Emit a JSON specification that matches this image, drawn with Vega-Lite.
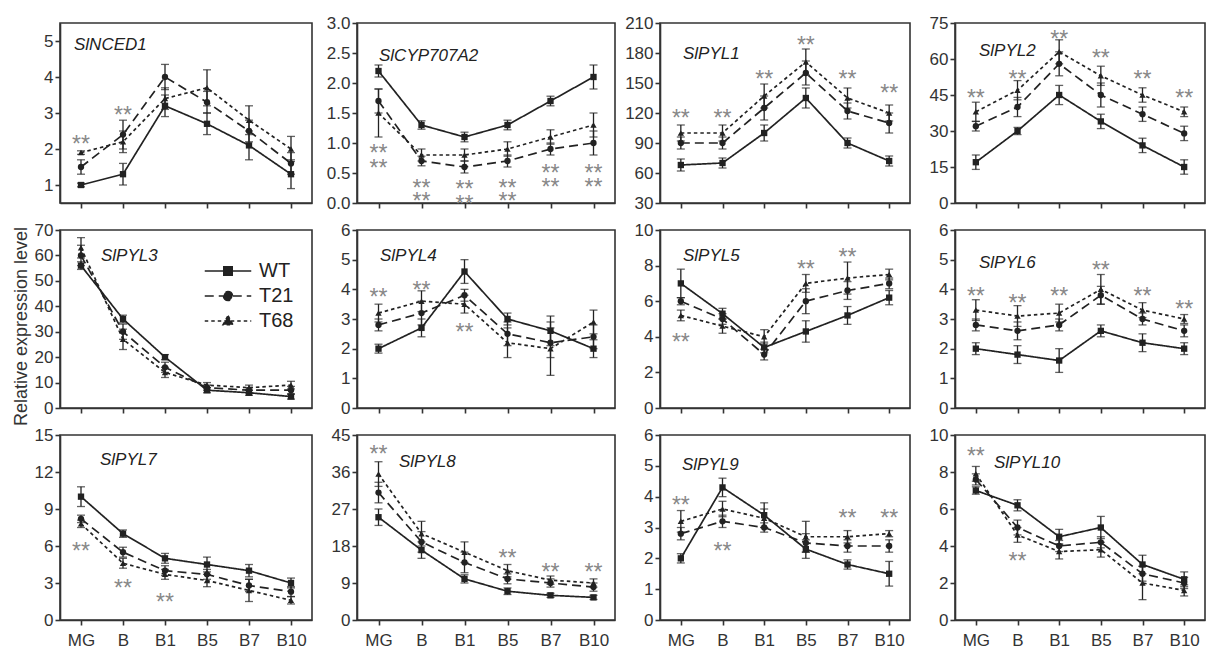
{
"$schema":"https://vega.github.io/schema/vega-lite/v6.json",
"background":"white",
"padding":{"left":11,"top":13,"right":0,"bottom":0},
"datasets":{
"d":[
{"g":"SlNCED1","s":"WT","x":"MG","v":1.0,"lo":0.95,"hi":1.05},{"g":"SlNCED1","s":"WT","x":"B","v":1.3,"lo":1.0,"hi":1.6},{"g":"SlNCED1","s":"WT","x":"B1","v":3.2,"lo":2.9,"hi":3.5},{"g":"SlNCED1","s":"WT","x":"B5","v":2.7,"lo":2.4,"hi":3.0},{"g":"SlNCED1","s":"WT","x":"B7","v":2.1,"lo":1.7,"hi":2.5},{"g":"SlNCED1","s":"WT","x":"B10","v":1.3,"lo":0.9,"hi":1.7},
{"g":"SlNCED1","s":"T21","x":"MG","v":1.5,"lo":1.3,"hi":1.7},{"g":"SlNCED1","s":"T21","x":"B","v":2.4,"lo":2.0,"hi":2.8},{"g":"SlNCED1","s":"T21","x":"B1","v":4.0,"lo":3.65,"hi":4.35},{"g":"SlNCED1","s":"T21","x":"B5","v":3.3,"lo":3.0,"hi":3.6},{"g":"SlNCED1","s":"T21","x":"B7","v":2.5,"lo":2.2,"hi":2.8},{"g":"SlNCED1","s":"T21","x":"B10","v":1.6,"lo":1.3,"hi":1.9},
{"g":"SlNCED1","s":"T68","x":"MG","v":1.9,"lo":1.85,"hi":1.95},{"g":"SlNCED1","s":"T68","x":"B","v":2.2,"lo":1.9,"hi":2.5},{"g":"SlNCED1","s":"T68","x":"B1","v":3.4,"lo":3.1,"hi":3.7},{"g":"SlNCED1","s":"T68","x":"B5","v":3.7,"lo":3.2,"hi":4.2},{"g":"SlNCED1","s":"T68","x":"B7","v":2.8,"lo":2.4,"hi":3.2},{"g":"SlNCED1","s":"T68","x":"B10","v":2.0,"lo":1.65,"hi":2.35},
{"g":"SlCYP707A2","s":"WT","x":"MG","v":2.2,"lo":2.1,"hi":2.3},{"g":"SlCYP707A2","s":"WT","x":"B","v":1.3,"lo":1.23,"hi":1.37},{"g":"SlCYP707A2","s":"WT","x":"B1","v":1.1,"lo":1.02,"hi":1.18},{"g":"SlCYP707A2","s":"WT","x":"B5","v":1.3,"lo":1.22,"hi":1.38},{"g":"SlCYP707A2","s":"WT","x":"B7","v":1.7,"lo":1.62,"hi":1.78},{"g":"SlCYP707A2","s":"WT","x":"B10","v":2.1,"lo":1.9,"hi":2.3},
{"g":"SlCYP707A2","s":"T21","x":"MG","v":1.7,"lo":1.5,"hi":1.9},{"g":"SlCYP707A2","s":"T21","x":"B","v":0.7,"lo":0.62,"hi":0.78},{"g":"SlCYP707A2","s":"T21","x":"B1","v":0.6,"lo":0.5,"hi":0.7},{"g":"SlCYP707A2","s":"T21","x":"B5","v":0.7,"lo":0.6,"hi":0.8},{"g":"SlCYP707A2","s":"T21","x":"B7","v":0.9,"lo":0.8,"hi":1.0},{"g":"SlCYP707A2","s":"T21","x":"B10","v":1.0,"lo":0.8,"hi":1.2},
{"g":"SlCYP707A2","s":"T68","x":"MG","v":1.5,"lo":1.1,"hi":1.9},{"g":"SlCYP707A2","s":"T68","x":"B","v":0.8,"lo":0.7,"hi":0.9},{"g":"SlCYP707A2","s":"T68","x":"B1","v":0.8,"lo":0.7,"hi":0.9},{"g":"SlCYP707A2","s":"T68","x":"B5","v":0.9,"lo":0.78,"hi":1.02},{"g":"SlCYP707A2","s":"T68","x":"B7","v":1.1,"lo":0.98,"hi":1.22},{"g":"SlCYP707A2","s":"T68","x":"B10","v":1.3,"lo":1.1,"hi":1.5},
{"g":"SlPYL1","s":"WT","x":"MG","v":68,"lo":62,"hi":74},{"g":"SlPYL1","s":"WT","x":"B","v":70,"lo":65,"hi":75},{"g":"SlPYL1","s":"WT","x":"B1","v":100,"lo":92,"hi":108},{"g":"SlPYL1","s":"WT","x":"B5","v":135,"lo":125,"hi":145},{"g":"SlPYL1","s":"WT","x":"B7","v":90,"lo":85,"hi":95},{"g":"SlPYL1","s":"WT","x":"B10","v":72,"lo":67,"hi":77},
{"g":"SlPYL1","s":"T21","x":"MG","v":90,"lo":84,"hi":96},{"g":"SlPYL1","s":"T21","x":"B","v":90,"lo":84,"hi":96},{"g":"SlPYL1","s":"T21","x":"B1","v":125,"lo":113,"hi":137},{"g":"SlPYL1","s":"T21","x":"B5","v":160,"lo":148,"hi":172},{"g":"SlPYL1","s":"T21","x":"B7","v":122,"lo":114,"hi":130},{"g":"SlPYL1","s":"T21","x":"B10","v":110,"lo":100,"hi":120},
{"g":"SlPYL1","s":"T68","x":"MG","v":100,"lo":92,"hi":108},{"g":"SlPYL1","s":"T68","x":"B","v":100,"lo":92,"hi":108},{"g":"SlPYL1","s":"T68","x":"B1","v":137,"lo":125,"hi":149},{"g":"SlPYL1","s":"T68","x":"B5","v":171,"lo":158,"hi":184},{"g":"SlPYL1","s":"T68","x":"B7","v":135,"lo":125,"hi":145},{"g":"SlPYL1","s":"T68","x":"B10","v":120,"lo":112,"hi":128},
{"g":"SlPYL2","s":"WT","x":"MG","v":17,"lo":14,"hi":20},{"g":"SlPYL2","s":"WT","x":"B","v":30,"lo":28.5,"hi":31.5},{"g":"SlPYL2","s":"WT","x":"B1","v":45,"lo":41,"hi":49},{"g":"SlPYL2","s":"WT","x":"B5","v":34,"lo":31,"hi":37},{"g":"SlPYL2","s":"WT","x":"B7","v":24,"lo":21,"hi":27},{"g":"SlPYL2","s":"WT","x":"B10","v":15,"lo":12,"hi":18},
{"g":"SlPYL2","s":"T21","x":"MG","v":32,"lo":30,"hi":34},{"g":"SlPYL2","s":"T21","x":"B","v":40,"lo":36,"hi":44},{"g":"SlPYL2","s":"T21","x":"B1","v":58,"lo":53,"hi":63},{"g":"SlPYL2","s":"T21","x":"B5","v":45,"lo":40,"hi":50},{"g":"SlPYL2","s":"T21","x":"B7","v":37,"lo":34,"hi":40},{"g":"SlPYL2","s":"T21","x":"B10","v":29,"lo":26,"hi":32},
{"g":"SlPYL2","s":"T68","x":"MG","v":38,"lo":34,"hi":42},{"g":"SlPYL2","s":"T68","x":"B","v":47,"lo":43,"hi":51},{"g":"SlPYL2","s":"T68","x":"B1","v":63,"lo":58,"hi":68},{"g":"SlPYL2","s":"T68","x":"B5","v":53,"lo":49,"hi":57},{"g":"SlPYL2","s":"T68","x":"B7","v":45,"lo":42,"hi":48},{"g":"SlPYL2","s":"T68","x":"B10","v":38,"lo":36,"hi":40},
{"g":"SlPYL3","s":"WT","x":"MG","v":56,"lo":54.5,"hi":57.5},{"g":"SlPYL3","s":"WT","x":"B","v":35,"lo":33.5,"hi":36.5},{"g":"SlPYL3","s":"WT","x":"B1","v":20,"lo":19,"hi":21},{"g":"SlPYL3","s":"WT","x":"B5","v":7,"lo":6,"hi":8},{"g":"SlPYL3","s":"WT","x":"B7","v":6,"lo":5,"hi":7},{"g":"SlPYL3","s":"WT","x":"B10","v":4.5,"lo":3.5,"hi":5.5},
{"g":"SlPYL3","s":"T21","x":"MG","v":60,"lo":56,"hi":64},{"g":"SlPYL3","s":"T21","x":"B","v":30,"lo":27,"hi":33},{"g":"SlPYL3","s":"T21","x":"B1","v":16,"lo":14,"hi":18},{"g":"SlPYL3","s":"T21","x":"B5","v":8,"lo":7,"hi":9},{"g":"SlPYL3","s":"T21","x":"B7","v":7,"lo":6,"hi":8},{"g":"SlPYL3","s":"T21","x":"B10","v":7,"lo":5.5,"hi":8.5},
{"g":"SlPYL3","s":"T68","x":"MG","v":63,"lo":59,"hi":67},{"g":"SlPYL3","s":"T68","x":"B","v":27,"lo":23,"hi":31},{"g":"SlPYL3","s":"T68","x":"B1","v":14,"lo":12,"hi":16},{"g":"SlPYL3","s":"T68","x":"B5","v":9,"lo":8,"hi":10},{"g":"SlPYL3","s":"T68","x":"B7","v":8,"lo":7,"hi":9},{"g":"SlPYL3","s":"T68","x":"B10","v":9,"lo":7.5,"hi":10.5},
{"g":"SlPYL4","s":"WT","x":"MG","v":2.0,"lo":1.85,"hi":2.15},{"g":"SlPYL4","s":"WT","x":"B","v":2.7,"lo":2.4,"hi":3.0},{"g":"SlPYL4","s":"WT","x":"B1","v":4.6,"lo":4.2,"hi":5.0},{"g":"SlPYL4","s":"WT","x":"B5","v":3.0,"lo":2.8,"hi":3.2},{"g":"SlPYL4","s":"WT","x":"B7","v":2.6,"lo":2.1,"hi":3.1},{"g":"SlPYL4","s":"WT","x":"B10","v":2.0,"lo":1.7,"hi":2.3},
{"g":"SlPYL4","s":"T21","x":"MG","v":2.8,"lo":2.6,"hi":3.0},{"g":"SlPYL4","s":"T21","x":"B","v":3.2,"lo":2.8,"hi":3.6},{"g":"SlPYL4","s":"T21","x":"B1","v":3.8,"lo":3.6,"hi":4.0},{"g":"SlPYL4","s":"T21","x":"B5","v":2.5,"lo":2.1,"hi":2.9},{"g":"SlPYL4","s":"T21","x":"B7","v":2.2,"lo":1.7,"hi":2.7},{"g":"SlPYL4","s":"T21","x":"B10","v":2.4,"lo":2.0,"hi":2.8},
{"g":"SlPYL4","s":"T68","x":"MG","v":3.2,"lo":2.9,"hi":3.5},{"g":"SlPYL4","s":"T68","x":"B","v":3.6,"lo":3.25,"hi":3.95},{"g":"SlPYL4","s":"T68","x":"B1","v":3.5,"lo":3.2,"hi":3.8},{"g":"SlPYL4","s":"T68","x":"B5","v":2.2,"lo":1.7,"hi":2.7},{"g":"SlPYL4","s":"T68","x":"B7","v":2.0,"lo":1.1,"hi":2.9},{"g":"SlPYL4","s":"T68","x":"B10","v":2.9,"lo":2.5,"hi":3.3},
{"g":"SlPYL5","s":"WT","x":"MG","v":7.0,"lo":6.2,"hi":7.8},{"g":"SlPYL5","s":"WT","x":"B","v":5.3,"lo":5.0,"hi":5.6},{"g":"SlPYL5","s":"WT","x":"B1","v":3.4,"lo":3.1,"hi":3.7},{"g":"SlPYL5","s":"WT","x":"B5","v":4.3,"lo":3.7,"hi":4.9},{"g":"SlPYL5","s":"WT","x":"B7","v":5.2,"lo":4.7,"hi":5.7},{"g":"SlPYL5","s":"WT","x":"B10","v":6.2,"lo":5.8,"hi":6.6},
{"g":"SlPYL5","s":"T21","x":"MG","v":6.0,"lo":5.8,"hi":6.2},{"g":"SlPYL5","s":"T21","x":"B","v":5.0,"lo":4.7,"hi":5.3},{"g":"SlPYL5","s":"T21","x":"B1","v":3.0,"lo":2.7,"hi":3.3},{"g":"SlPYL5","s":"T21","x":"B5","v":6.0,"lo":5.3,"hi":6.7},{"g":"SlPYL5","s":"T21","x":"B7","v":6.6,"lo":6.1,"hi":7.1},{"g":"SlPYL5","s":"T21","x":"B10","v":7.0,"lo":6.7,"hi":7.3},
{"g":"SlPYL5","s":"T68","x":"MG","v":5.2,"lo":4.9,"hi":5.5},{"g":"SlPYL5","s":"T68","x":"B","v":4.6,"lo":4.2,"hi":5.0},{"g":"SlPYL5","s":"T68","x":"B1","v":4.0,"lo":3.6,"hi":4.4},{"g":"SlPYL5","s":"T68","x":"B5","v":7.0,"lo":6.5,"hi":7.5},{"g":"SlPYL5","s":"T68","x":"B7","v":7.3,"lo":6.4,"hi":8.2},{"g":"SlPYL5","s":"T68","x":"B10","v":7.5,"lo":7.2,"hi":7.8},
{"g":"SlPYL6","s":"WT","x":"MG","v":2.0,"lo":1.8,"hi":2.2},{"g":"SlPYL6","s":"WT","x":"B","v":1.8,"lo":1.5,"hi":2.1},{"g":"SlPYL6","s":"WT","x":"B1","v":1.6,"lo":1.2,"hi":2.0},{"g":"SlPYL6","s":"WT","x":"B5","v":2.6,"lo":2.4,"hi":2.8},{"g":"SlPYL6","s":"WT","x":"B7","v":2.2,"lo":1.9,"hi":2.5},{"g":"SlPYL6","s":"WT","x":"B10","v":2.0,"lo":1.8,"hi":2.2},
{"g":"SlPYL6","s":"T21","x":"MG","v":2.8,"lo":2.6,"hi":3.0},{"g":"SlPYL6","s":"T21","x":"B","v":2.6,"lo":2.3,"hi":2.9},{"g":"SlPYL6","s":"T21","x":"B1","v":2.8,"lo":2.6,"hi":3.0},{"g":"SlPYL6","s":"T21","x":"B5","v":3.8,"lo":3.5,"hi":4.1},{"g":"SlPYL6","s":"T21","x":"B7","v":3.0,"lo":2.8,"hi":3.2},{"g":"SlPYL6","s":"T21","x":"B10","v":2.6,"lo":2.4,"hi":2.8},
{"g":"SlPYL6","s":"T68","x":"MG","v":3.3,"lo":2.95,"hi":3.65},{"g":"SlPYL6","s":"T68","x":"B","v":3.1,"lo":2.75,"hi":3.45},{"g":"SlPYL6","s":"T68","x":"B1","v":3.2,"lo":2.9,"hi":3.5},{"g":"SlPYL6","s":"T68","x":"B5","v":4.0,"lo":3.5,"hi":4.5},{"g":"SlPYL6","s":"T68","x":"B7","v":3.3,"lo":3.05,"hi":3.55},{"g":"SlPYL6","s":"T68","x":"B10","v":3.0,"lo":2.85,"hi":3.15},
{"g":"SlPYL7","s":"WT","x":"MG","v":10,"lo":9.2,"hi":10.8},{"g":"SlPYL7","s":"WT","x":"B","v":7,"lo":6.7,"hi":7.3},{"g":"SlPYL7","s":"WT","x":"B1","v":5,"lo":4.6,"hi":5.4},{"g":"SlPYL7","s":"WT","x":"B5","v":4.5,"lo":3.9,"hi":5.1},{"g":"SlPYL7","s":"WT","x":"B7","v":4.0,"lo":3.5,"hi":4.5},{"g":"SlPYL7","s":"WT","x":"B10","v":3.0,"lo":2.6,"hi":3.4},
{"g":"SlPYL7","s":"T21","x":"MG","v":8.2,"lo":7.9,"hi":8.5},{"g":"SlPYL7","s":"T21","x":"B","v":5.5,"lo":5.1,"hi":5.9},{"g":"SlPYL7","s":"T21","x":"B1","v":4.0,"lo":3.6,"hi":4.4},{"g":"SlPYL7","s":"T21","x":"B5","v":3.7,"lo":3.3,"hi":4.1},{"g":"SlPYL7","s":"T21","x":"B7","v":2.8,"lo":2.3,"hi":3.3},{"g":"SlPYL7","s":"T21","x":"B10","v":2.3,"lo":1.9,"hi":2.7},
{"g":"SlPYL7","s":"T68","x":"MG","v":7.8,"lo":7.5,"hi":8.1},{"g":"SlPYL7","s":"T68","x":"B","v":4.6,"lo":4.2,"hi":5.0},{"g":"SlPYL7","s":"T68","x":"B1","v":3.7,"lo":3.3,"hi":4.1},{"g":"SlPYL7","s":"T68","x":"B5","v":3.2,"lo":2.7,"hi":3.7},{"g":"SlPYL7","s":"T68","x":"B7","v":2.4,"lo":1.5,"hi":3.3},{"g":"SlPYL7","s":"T68","x":"B10","v":1.6,"lo":1.3,"hi":1.9},
{"g":"SlPYL8","s":"WT","x":"MG","v":25,"lo":23,"hi":27},{"g":"SlPYL8","s":"WT","x":"B","v":17,"lo":15,"hi":19},{"g":"SlPYL8","s":"WT","x":"B1","v":10,"lo":9,"hi":11},{"g":"SlPYL8","s":"WT","x":"B5","v":7,"lo":6.2,"hi":7.8},{"g":"SlPYL8","s":"WT","x":"B7","v":6,"lo":5.5,"hi":6.5},{"g":"SlPYL8","s":"WT","x":"B10","v":5.5,"lo":5,"hi":6},
{"g":"SlPYL8","s":"T21","x":"MG","v":31,"lo":28.5,"hi":33.5},{"g":"SlPYL8","s":"T21","x":"B","v":19,"lo":16.5,"hi":21.5},{"g":"SlPYL8","s":"T21","x":"B1","v":14,"lo":11.5,"hi":16.5},{"g":"SlPYL8","s":"T21","x":"B5","v":10,"lo":8.8,"hi":11.2},{"g":"SlPYL8","s":"T21","x":"B7","v":9,"lo":8,"hi":10},{"g":"SlPYL8","s":"T21","x":"B10","v":8,"lo":7,"hi":9},
{"g":"SlPYL8","s":"T68","x":"MG","v":35.5,"lo":32.5,"hi":38.5},{"g":"SlPYL8","s":"T68","x":"B","v":21,"lo":18,"hi":24},{"g":"SlPYL8","s":"T68","x":"B1","v":16.5,"lo":14,"hi":19},{"g":"SlPYL8","s":"T68","x":"B5","v":12,"lo":10.5,"hi":13.5},{"g":"SlPYL8","s":"T68","x":"B7","v":9.7,"lo":8.7,"hi":10.7},{"g":"SlPYL8","s":"T68","x":"B10","v":9,"lo":8,"hi":10},
{"g":"SlPYL9","s":"WT","x":"MG","v":2.0,"lo":1.85,"hi":2.15},{"g":"SlPYL9","s":"WT","x":"B","v":4.3,"lo":4.0,"hi":4.6},{"g":"SlPYL9","s":"WT","x":"B1","v":3.4,"lo":3.0,"hi":3.8},{"g":"SlPYL9","s":"WT","x":"B5","v":2.3,"lo":2.0,"hi":2.6},{"g":"SlPYL9","s":"WT","x":"B7","v":1.8,"lo":1.65,"hi":1.95},{"g":"SlPYL9","s":"WT","x":"B10","v":1.5,"lo":1.1,"hi":1.9},
{"g":"SlPYL9","s":"T21","x":"MG","v":2.8,"lo":2.6,"hi":3.0},{"g":"SlPYL9","s":"T21","x":"B","v":3.2,"lo":3.0,"hi":3.4},{"g":"SlPYL9","s":"T21","x":"B1","v":3.0,"lo":2.85,"hi":3.15},{"g":"SlPYL9","s":"T21","x":"B5","v":2.5,"lo":2.2,"hi":2.8},{"g":"SlPYL9","s":"T21","x":"B7","v":2.4,"lo":2.2,"hi":2.6},{"g":"SlPYL9","s":"T21","x":"B10","v":2.4,"lo":2.2,"hi":2.6},
{"g":"SlPYL9","s":"T68","x":"MG","v":3.2,"lo":2.85,"hi":3.55},{"g":"SlPYL9","s":"T68","x":"B","v":3.6,"lo":3.35,"hi":3.85},{"g":"SlPYL9","s":"T68","x":"B1","v":3.3,"lo":3.0,"hi":3.6},{"g":"SlPYL9","s":"T68","x":"B5","v":2.7,"lo":2.2,"hi":3.2},{"g":"SlPYL9","s":"T68","x":"B7","v":2.7,"lo":2.5,"hi":2.9},{"g":"SlPYL9","s":"T68","x":"B10","v":2.8,"lo":2.7,"hi":2.9},
{"g":"SlPYL10","s":"WT","x":"MG","v":7.0,"lo":6.8,"hi":7.2},{"g":"SlPYL10","s":"WT","x":"B","v":6.2,"lo":5.9,"hi":6.5},{"g":"SlPYL10","s":"WT","x":"B1","v":4.5,"lo":4.1,"hi":4.9},{"g":"SlPYL10","s":"WT","x":"B5","v":5.0,"lo":4.4,"hi":5.6},{"g":"SlPYL10","s":"WT","x":"B7","v":3.0,"lo":2.5,"hi":3.5},{"g":"SlPYL10","s":"WT","x":"B10","v":2.2,"lo":1.8,"hi":2.6},
{"g":"SlPYL10","s":"T21","x":"MG","v":7.6,"lo":7.3,"hi":7.9},{"g":"SlPYL10","s":"T21","x":"B","v":5.0,"lo":4.6,"hi":5.4},{"g":"SlPYL10","s":"T21","x":"B1","v":4.0,"lo":3.7,"hi":4.3},{"g":"SlPYL10","s":"T21","x":"B5","v":4.2,"lo":3.9,"hi":4.5},{"g":"SlPYL10","s":"T21","x":"B7","v":2.5,"lo":2.1,"hi":2.9},{"g":"SlPYL10","s":"T21","x":"B10","v":2.0,"lo":1.7,"hi":2.3},
{"g":"SlPYL10","s":"T68","x":"MG","v":7.9,"lo":7.5,"hi":8.3},{"g":"SlPYL10","s":"T68","x":"B","v":4.6,"lo":4.2,"hi":5.0},{"g":"SlPYL10","s":"T68","x":"B1","v":3.7,"lo":3.3,"hi":4.1},{"g":"SlPYL10","s":"T68","x":"B5","v":3.8,"lo":3.4,"hi":4.2},{"g":"SlPYL10","s":"T68","x":"B7","v":2.0,"lo":1.1,"hi":2.9},{"g":"SlPYL10","s":"T68","x":"B10","v":1.6,"lo":1.3,"hi":1.9}
],
"st":[
{"g":"SlNCED1","x":"MG","y":2.29},{"g":"SlNCED1","x":"B","y":3.07},
{"g":"SlCYP707A2","x":"MG","y":0.92},{"g":"SlCYP707A2","x":"MG","y":0.67},{"g":"SlCYP707A2","x":"B","y":0.34},{"g":"SlCYP707A2","x":"B","y":0.11},{"g":"SlCYP707A2","x":"B1","y":0.31},{"g":"SlCYP707A2","x":"B1","y":0.06},{"g":"SlCYP707A2","x":"B5","y":0.34},{"g":"SlCYP707A2","x":"B5","y":0.11},{"g":"SlCYP707A2","x":"B7","y":0.59},{"g":"SlCYP707A2","x":"B7","y":0.35},{"g":"SlCYP707A2","x":"B10","y":0.59},{"g":"SlCYP707A2","x":"B10","y":0.35},
{"g":"SlPYL1","x":"MG","y":120},{"g":"SlPYL1","x":"B","y":120},{"g":"SlPYL1","x":"B1","y":159},{"g":"SlPYL1","x":"B5","y":193},{"g":"SlPYL1","x":"B7","y":159},{"g":"SlPYL1","x":"B10","y":145},
{"g":"SlPYL2","x":"MG","y":45.7},{"g":"SlPYL2","x":"B","y":53.7},{"g":"SlPYL2","x":"B1","y":70.6},{"g":"SlPYL2","x":"B5","y":62.7},{"g":"SlPYL2","x":"B7","y":53.7},{"g":"SlPYL2","x":"B10","y":45.7},
{"g":"SlPYL4","x":"MG","y":3.91},{"g":"SlPYL4","x":"B","y":4.13},{"g":"SlPYL4","x":"B1","y":2.73},
{"g":"SlPYL5","x":"MG","y":4.0},{"g":"SlPYL5","x":"B5","y":8.1},{"g":"SlPYL5","x":"B7","y":8.75},
{"g":"SlPYL6","x":"MG","y":3.94},{"g":"SlPYL6","x":"B","y":3.72},{"g":"SlPYL6","x":"B1","y":3.94},{"g":"SlPYL6","x":"B5","y":4.82},{"g":"SlPYL6","x":"B7","y":3.94},{"g":"SlPYL6","x":"B10","y":3.5},
{"g":"SlPYL7","x":"MG","y":6.0},{"g":"SlPYL7","x":"B","y":2.96},{"g":"SlPYL7","x":"B1","y":1.89},
{"g":"SlPYL8","x":"MG","y":41.6},{"g":"SlPYL8","x":"B5","y":16.2},{"g":"SlPYL8","x":"B7","y":13},{"g":"SlPYL8","x":"B10","y":13},
{"g":"SlPYL9","x":"MG","y":3.9},{"g":"SlPYL9","x":"B","y":2.4},{"g":"SlPYL9","x":"B7","y":3.47},{"g":"SlPYL9","x":"B10","y":3.47},
{"g":"SlPYL10","x":"MG","y":9.14},{"g":"SlPYL10","x":"B","y":3.44}
]},
"data":{"name":"d"},
"columns":4,
"bounds":"flush",
"spacing":{"row":27,"column":45},
"resolve":{"legend":{"strokeDash":"independent","shape":"independent"}},
"concat":[
{"width":252,"height":180,"title":{"text":"SlNCED1","dx":14,"offset":-31},
 "transform":[{"filter":"datum.g==='SlNCED1'"}],
 "encoding":{"x":{"field":"x","type":"ordinal","scale":{"type":"point","domain":["MG","B","B1","B5","B7","B10"],"padding":0.5},"axis":{"title":null,"labels":false}},
  "y":{"field":"v","type":"quantitative","title":null,"scale":{"domain":[0.5,5.5],"nice":false,"zero":false},"axis":{"values":[1,2,3,4,5]}}},
 "layer":[
  {"mark":"rule","encoding":{"y":{"field":"lo","type":"quantitative","title":null},"y2":{"field":"hi"}}},
  {"mark":{"type":"tick","size":8},"encoding":{"y":{"field":"lo","type":"quantitative","title":null}}},
  {"mark":{"type":"tick","size":8},"encoding":{"y":{"field":"hi","type":"quantitative","title":null}}},
  {"mark":"line","encoding":{"strokeDash":{"field":"s","type":"nominal","sort":["WT","T21","T68"],"scale":{"range":[[1,0],[9,5],[3.5,3]]},"legend":null},"order":{"value":null}}},
  {"mark":"point","encoding":{"shape":{"field":"s","type":"nominal","scale":{"domain":["WT","T21","T68"],"range":["square","circle","triangle-up"]},"legend":null}}},
  {"data":{"name":"st"},"transform":[{"filter":"datum.g==='SlNCED1'"}],"mark":"text","encoding":{"y":{"field":"y","type":"quantitative","title":null},"text":{"value":"**"}}}
 ]},
{"width":258,"height":180,"title":{"text":"SlCYP707A2","dx":22,"offset":-51},
 "transform":[{"filter":"datum.g==='SlCYP707A2'"}],
 "encoding":{"x":{"field":"x","type":"ordinal","scale":{"type":"point","domain":["MG","B","B1","B5","B7","B10"],"padding":0.5},"axis":{"title":null,"labels":false}},
  "y":{"field":"v","type":"quantitative","title":null,"scale":{"domain":[0,3],"nice":false,"zero":false},"axis":{"values":[0,0.5,1,1.5,2,2.5,3],"format":".1f"}}},
 "layer":[
  {"mark":"rule","encoding":{"y":{"field":"lo","type":"quantitative","title":null},"y2":{"field":"hi"}}},
  {"mark":{"type":"tick","size":8},"encoding":{"y":{"field":"lo","type":"quantitative","title":null}}},
  {"mark":{"type":"tick","size":8},"encoding":{"y":{"field":"hi","type":"quantitative","title":null}}},
  {"mark":"line","encoding":{"strokeDash":{"field":"s","type":"nominal","sort":["WT","T21","T68"],"scale":{"range":[[1,0],[9,5],[3.5,3]]},"legend":null},"order":{"value":null}}},
  {"mark":"point","encoding":{"shape":{"field":"s","type":"nominal","scale":{"domain":["WT","T21","T68"],"range":["square","circle","triangle-up"]},"legend":null}}},
  {"data":{"name":"st"},"transform":[{"filter":"datum.g==='SlCYP707A2'"}],"mark":"text","encoding":{"y":{"field":"y","type":"quantitative","title":null},"text":{"value":"**"}}}
 ]},
{"width":250,"height":180,"title":{"text":"SlPYL1","dx":23,"offset":-49},
 "transform":[{"filter":"datum.g==='SlPYL1'"}],
 "encoding":{"x":{"field":"x","type":"ordinal","scale":{"type":"point","domain":["MG","B","B1","B5","B7","B10"],"padding":0.5},"axis":{"title":null,"labels":false}},
  "y":{"field":"v","type":"quantitative","title":null,"scale":{"domain":[30,210],"nice":false,"zero":false},"axis":{"values":[30,60,90,120,150,180,210]}}},
 "layer":[
  {"mark":"rule","encoding":{"y":{"field":"lo","type":"quantitative","title":null},"y2":{"field":"hi"}}},
  {"mark":{"type":"tick","size":8},"encoding":{"y":{"field":"lo","type":"quantitative","title":null}}},
  {"mark":{"type":"tick","size":8},"encoding":{"y":{"field":"hi","type":"quantitative","title":null}}},
  {"mark":"line","encoding":{"strokeDash":{"field":"s","type":"nominal","sort":["WT","T21","T68"],"scale":{"range":[[1,0],[9,5],[3.5,3]]},"legend":null},"order":{"value":null}}},
  {"mark":"point","encoding":{"shape":{"field":"s","type":"nominal","scale":{"domain":["WT","T21","T68"],"range":["square","circle","triangle-up"]},"legend":null}}},
  {"data":{"name":"st"},"transform":[{"filter":"datum.g==='SlPYL1'"}],"mark":"text","encoding":{"y":{"field":"y","type":"quantitative","title":null},"text":{"value":"**"}}}
 ]},
{"width":250,"height":180,"title":{"text":"SlPYL2","dx":24,"offset":-46},
 "transform":[{"filter":"datum.g==='SlPYL2'"}],
 "encoding":{"x":{"field":"x","type":"ordinal","scale":{"type":"point","domain":["MG","B","B1","B5","B7","B10"],"padding":0.5},"axis":{"title":null,"labels":false}},
  "y":{"field":"v","type":"quantitative","title":null,"scale":{"domain":[0,75],"nice":false,"zero":false},"axis":{"values":[0,15,30,45,60,75]}}},
 "layer":[
  {"mark":"rule","encoding":{"y":{"field":"lo","type":"quantitative","title":null},"y2":{"field":"hi"}}},
  {"mark":{"type":"tick","size":8},"encoding":{"y":{"field":"lo","type":"quantitative","title":null}}},
  {"mark":{"type":"tick","size":8},"encoding":{"y":{"field":"hi","type":"quantitative","title":null}}},
  {"mark":"line","encoding":{"strokeDash":{"field":"s","type":"nominal","sort":["WT","T21","T68"],"scale":{"range":[[1,0],[9,5],[3.5,3]]},"legend":null},"order":{"value":null}}},
  {"mark":"point","encoding":{"shape":{"field":"s","type":"nominal","scale":{"domain":["WT","T21","T68"],"range":["square","circle","triangle-up"]},"legend":null}}},
  {"data":{"name":"st"},"transform":[{"filter":"datum.g==='SlPYL2'"}],"mark":"text","encoding":{"y":{"field":"y","type":"quantitative","title":null},"text":{"value":"**"}}}
 ]},
{"width":252,"height":178,"title":{"text":"SlPYL3","dx":41,"offset":-44},
 "transform":[{"filter":"datum.g==='SlPYL3'"}],
 "encoding":{"x":{"field":"x","type":"ordinal","scale":{"type":"point","domain":["MG","B","B1","B5","B7","B10"],"padding":0.5},"axis":{"title":null,"labels":false}},
  "y":{"field":"v","type":"quantitative","title":"Relative expression level","scale":{"domain":[0,70],"nice":false,"zero":false},"axis":{"values":[0,10,20,30,40,50,60,70],"titleFontSize":18,"titleFontWeight":"normal","titleColor":"#333","titlePadding":4,"titleY":96}}},
 "layer":[
  {"mark":"rule","encoding":{"y":{"field":"lo","type":"quantitative","title":"Relative expression level"},"y2":{"field":"hi"}}},
  {"mark":{"type":"tick","size":8},"encoding":{"y":{"field":"lo","type":"quantitative","title":"Relative expression level"}}},
  {"mark":{"type":"tick","size":8},"encoding":{"y":{"field":"hi","type":"quantitative","title":"Relative expression level"}}},
  {"mark":"line","encoding":{"strokeDash":{"field":"s","type":"nominal","sort":["WT","T21","T68"],"scale":{"range":[[1,0],[9,5],[3.5,3]]},
     "legend":{"title":null,"orient":"none","legendX":142,"legendY":31,"padding":0,"symbolSize":225,"symbolOffset":16,"labelOffset":21,"labelFont":"Liberation Sans","labelFontSize":20,"labelColor":"#222","rowPadding":5,"symbolStrokeWidth":1.6,"symbolStrokeColor":"#222","symbolFillColor":"#222",
       "symbolType":{"expr":"datum.value==='WT' ? 'M-3.1,0H3.1M-0.55,-0.55H0.55V0.55H-0.55Z' : datum.value==='T21' ? 'M-3.1,0H3.1M-0.6,0A0.6,0.6,0,1,0,0.6,0A0.6,0.6,0,1,0,-0.6,0Z' : 'M-3.1,0H3.1M0,-0.7L0.65,0.5H-0.65Z'"}}},"order":{"value":null}}},
  {"mark":"point","encoding":{"shape":{"field":"s","type":"nominal","scale":{"domain":["WT","T21","T68"],"range":["square","circle","triangle-up"]},"legend":null}}},
  {"data":{"name":"st"},"transform":[{"filter":"datum.g==='SlPYL3'"}],"mark":"text","encoding":{"y":{"field":"y","type":"quantitative","title":"Relative expression level"},"text":{"value":"**"}}}
 ]},
{"width":258,"height":178,"title":{"text":"SlPYL4","dx":23,"offset":-44},
 "transform":[{"filter":"datum.g==='SlPYL4'"}],
 "encoding":{"x":{"field":"x","type":"ordinal","scale":{"type":"point","domain":["MG","B","B1","B5","B7","B10"],"padding":0.5},"axis":{"title":null,"labels":false}},
  "y":{"field":"v","type":"quantitative","title":null,"scale":{"domain":[0,6],"nice":false,"zero":false},"axis":{"values":[0,1,2,3,4,5,6]}}},
 "layer":[
  {"mark":"rule","encoding":{"y":{"field":"lo","type":"quantitative","title":null},"y2":{"field":"hi"}}},
  {"mark":{"type":"tick","size":8},"encoding":{"y":{"field":"lo","type":"quantitative","title":null}}},
  {"mark":{"type":"tick","size":8},"encoding":{"y":{"field":"hi","type":"quantitative","title":null}}},
  {"mark":"line","encoding":{"strokeDash":{"field":"s","type":"nominal","sort":["WT","T21","T68"],"scale":{"range":[[1,0],[9,5],[3.5,3]]},"legend":null},"order":{"value":null}}},
  {"mark":"point","encoding":{"shape":{"field":"s","type":"nominal","scale":{"domain":["WT","T21","T68"],"range":["square","circle","triangle-up"]},"legend":null}}},
  {"data":{"name":"st"},"transform":[{"filter":"datum.g==='SlPYL4'"}],"mark":"text","encoding":{"y":{"field":"y","type":"quantitative","title":null},"text":{"value":"**"}}}
 ]},
{"width":250,"height":178,"title":{"text":"SlPYL5","dx":23,"offset":-44},
 "transform":[{"filter":"datum.g==='SlPYL5'"}],
 "encoding":{"x":{"field":"x","type":"ordinal","scale":{"type":"point","domain":["MG","B","B1","B5","B7","B10"],"padding":0.5},"axis":{"title":null,"labels":false}},
  "y":{"field":"v","type":"quantitative","title":null,"scale":{"domain":[0,10],"nice":false,"zero":false},"axis":{"values":[0,2,4,6,8,10]}}},
 "layer":[
  {"mark":"rule","encoding":{"y":{"field":"lo","type":"quantitative","title":null},"y2":{"field":"hi"}}},
  {"mark":{"type":"tick","size":8},"encoding":{"y":{"field":"lo","type":"quantitative","title":null}}},
  {"mark":{"type":"tick","size":8},"encoding":{"y":{"field":"hi","type":"quantitative","title":null}}},
  {"mark":"line","encoding":{"strokeDash":{"field":"s","type":"nominal","sort":["WT","T21","T68"],"scale":{"range":[[1,0],[9,5],[3.5,3]]},"legend":null},"order":{"value":null}}},
  {"mark":"point","encoding":{"shape":{"field":"s","type":"nominal","scale":{"domain":["WT","T21","T68"],"range":["square","circle","triangle-up"]},"legend":null}}},
  {"data":{"name":"st"},"transform":[{"filter":"datum.g==='SlPYL5'"}],"mark":"text","encoding":{"y":{"field":"y","type":"quantitative","title":null},"text":{"value":"**"}}}
 ]},
{"width":250,"height":178,"title":{"text":"SlPYL6","dx":24,"offset":-51},
 "transform":[{"filter":"datum.g==='SlPYL6'"}],
 "encoding":{"x":{"field":"x","type":"ordinal","scale":{"type":"point","domain":["MG","B","B1","B5","B7","B10"],"padding":0.5},"axis":{"title":null,"labels":false}},
  "y":{"field":"v","type":"quantitative","title":null,"scale":{"domain":[0,6],"nice":false,"zero":false},"axis":{"values":[0,1,2,3,4,5,6]}}},
 "layer":[
  {"mark":"rule","encoding":{"y":{"field":"lo","type":"quantitative","title":null},"y2":{"field":"hi"}}},
  {"mark":{"type":"tick","size":8},"encoding":{"y":{"field":"lo","type":"quantitative","title":null}}},
  {"mark":{"type":"tick","size":8},"encoding":{"y":{"field":"hi","type":"quantitative","title":null}}},
  {"mark":"line","encoding":{"strokeDash":{"field":"s","type":"nominal","sort":["WT","T21","T68"],"scale":{"range":[[1,0],[9,5],[3.5,3]]},"legend":null},"order":{"value":null}}},
  {"mark":"point","encoding":{"shape":{"field":"s","type":"nominal","scale":{"domain":["WT","T21","T68"],"range":["square","circle","triangle-up"]},"legend":null}}},
  {"data":{"name":"st"},"transform":[{"filter":"datum.g==='SlPYL6'"}],"mark":"text","encoding":{"y":{"field":"y","type":"quantitative","title":null},"text":{"value":"**"}}}
 ]},
{"width":252,"height":185,"title":{"text":"SlPYL7","dx":40,"offset":-43},
 "transform":[{"filter":"datum.g==='SlPYL7'"}],
 "encoding":{"x":{"field":"x","type":"ordinal","scale":{"type":"point","domain":["MG","B","B1","B5","B7","B10"],"padding":0.5},"axis":{"title":null}},
  "y":{"field":"v","type":"quantitative","title":null,"scale":{"domain":[0,15],"nice":false,"zero":false},"axis":{"values":[0,3,6,9,12,15]}}},
 "layer":[
  {"mark":"rule","encoding":{"y":{"field":"lo","type":"quantitative","title":null},"y2":{"field":"hi"}}},
  {"mark":{"type":"tick","size":8},"encoding":{"y":{"field":"lo","type":"quantitative","title":null}}},
  {"mark":{"type":"tick","size":8},"encoding":{"y":{"field":"hi","type":"quantitative","title":null}}},
  {"mark":"line","encoding":{"strokeDash":{"field":"s","type":"nominal","sort":["WT","T21","T68"],"scale":{"range":[[1,0],[9,5],[3.5,3]]},"legend":null},"order":{"value":null}}},
  {"mark":"point","encoding":{"shape":{"field":"s","type":"nominal","scale":{"domain":["WT","T21","T68"],"range":["square","circle","triangle-up"]},"legend":null}}},
  {"data":{"name":"st"},"transform":[{"filter":"datum.g==='SlPYL7'"}],"mark":"text","encoding":{"y":{"field":"y","type":"quantitative","title":null},"text":{"value":"**"}}}
 ]},
{"width":258,"height":185,"title":{"text":"SlPYL8","dx":42,"offset":-45},
 "transform":[{"filter":"datum.g==='SlPYL8'"}],
 "encoding":{"x":{"field":"x","type":"ordinal","scale":{"type":"point","domain":["MG","B","B1","B5","B7","B10"],"padding":0.5},"axis":{"title":null}},
  "y":{"field":"v","type":"quantitative","title":null,"scale":{"domain":[0,45],"nice":false,"zero":false},"axis":{"values":[0,9,18,27,36,45]}}},
 "layer":[
  {"mark":"rule","encoding":{"y":{"field":"lo","type":"quantitative","title":null},"y2":{"field":"hi"}}},
  {"mark":{"type":"tick","size":8},"encoding":{"y":{"field":"lo","type":"quantitative","title":null}}},
  {"mark":{"type":"tick","size":8},"encoding":{"y":{"field":"hi","type":"quantitative","title":null}}},
  {"mark":"line","encoding":{"strokeDash":{"field":"s","type":"nominal","sort":["WT","T21","T68"],"scale":{"range":[[1,0],[9,5],[3.5,3]]},"legend":null},"order":{"value":null}}},
  {"mark":"point","encoding":{"shape":{"field":"s","type":"nominal","scale":{"domain":["WT","T21","T68"],"range":["square","circle","triangle-up"]},"legend":null}}},
  {"data":{"name":"st"},"transform":[{"filter":"datum.g==='SlPYL8'"}],"mark":"text","encoding":{"y":{"field":"y","type":"quantitative","title":null},"text":{"value":"**"}}}
 ]},
{"width":250,"height":185,"title":{"text":"SlPYL9","dx":22,"offset":-48},
 "transform":[{"filter":"datum.g==='SlPYL9'"}],
 "encoding":{"x":{"field":"x","type":"ordinal","scale":{"type":"point","domain":["MG","B","B1","B5","B7","B10"],"padding":0.5},"axis":{"title":null}},
  "y":{"field":"v","type":"quantitative","title":null,"scale":{"domain":[0,6],"nice":false,"zero":false},"axis":{"values":[0,1,2,3,4,5,6]}}},
 "layer":[
  {"mark":"rule","encoding":{"y":{"field":"lo","type":"quantitative","title":null},"y2":{"field":"hi"}}},
  {"mark":{"type":"tick","size":8},"encoding":{"y":{"field":"lo","type":"quantitative","title":null}}},
  {"mark":{"type":"tick","size":8},"encoding":{"y":{"field":"hi","type":"quantitative","title":null}}},
  {"mark":"line","encoding":{"strokeDash":{"field":"s","type":"nominal","sort":["WT","T21","T68"],"scale":{"range":[[1,0],[9,5],[3.5,3]]},"legend":null},"order":{"value":null}}},
  {"mark":"point","encoding":{"shape":{"field":"s","type":"nominal","scale":{"domain":["WT","T21","T68"],"range":["square","circle","triangle-up"]},"legend":null}}},
  {"data":{"name":"st"},"transform":[{"filter":"datum.g==='SlPYL9'"}],"mark":"text","encoding":{"y":{"field":"y","type":"quantitative","title":null},"text":{"value":"**"}}}
 ]},
{"width":250,"height":185,"title":{"text":"SlPYL10","dx":39,"offset":-46},
 "transform":[{"filter":"datum.g==='SlPYL10'"}],
 "encoding":{"x":{"field":"x","type":"ordinal","scale":{"type":"point","domain":["MG","B","B1","B5","B7","B10"],"padding":0.5},"axis":{"title":null}},
  "y":{"field":"v","type":"quantitative","title":null,"scale":{"domain":[0,10],"nice":false,"zero":false},"axis":{"values":[0,2,4,6,8,10]}}},
 "layer":[
  {"mark":"rule","encoding":{"y":{"field":"lo","type":"quantitative","title":null},"y2":{"field":"hi"}}},
  {"mark":{"type":"tick","size":8},"encoding":{"y":{"field":"lo","type":"quantitative","title":null}}},
  {"mark":{"type":"tick","size":8},"encoding":{"y":{"field":"hi","type":"quantitative","title":null}}},
  {"mark":"line","encoding":{"strokeDash":{"field":"s","type":"nominal","sort":["WT","T21","T68"],"scale":{"range":[[1,0],[9,5],[3.5,3]]},"legend":null},"order":{"value":null}}},
  {"mark":"point","encoding":{"shape":{"field":"s","type":"nominal","scale":{"domain":["WT","T21","T68"],"range":["square","circle","triangle-up"]},"legend":null}}},
  {"data":{"name":"st"},"transform":[{"filter":"datum.g==='SlPYL10'"}],"mark":"text","encoding":{"y":{"field":"y","type":"quantitative","title":null},"text":{"value":"**"}}}
 ]}
],
"config":{
 "view":{"stroke":"#333","strokeWidth":1.6},
 "axis":{"grid":false,"labelFont":"Liberation Sans","labelFontSize":17,"labelColor":"#333","domainColor":"#333","domainWidth":1.6,"tickColor":"#333","tickWidth":1.6,"tickSize":5,"titleFont":"Liberation Sans"},
 "axisX":{"labelAngle":0,"labelPadding":7},
 "axisY":{"labelPadding":2},
 "title":{"font":"Liberation Sans","fontSize":17,"fontStyle":"italic","fontWeight":"normal","anchor":"start","frame":"group","color":"#222"},
 "line":{"color":"#222","strokeWidth":1.7},
 "point":{"filled":true,"color":"#222","size":40,"opacity":1},
 "rule":{"color":"#222","strokeWidth":1.3},
 "tick":{"color":"#222","thickness":1.3},
 "text":{"font":"Liberation Sans","fontSize":23,"color":"#888","baseline":"alphabetic","dy":13}
}
}
